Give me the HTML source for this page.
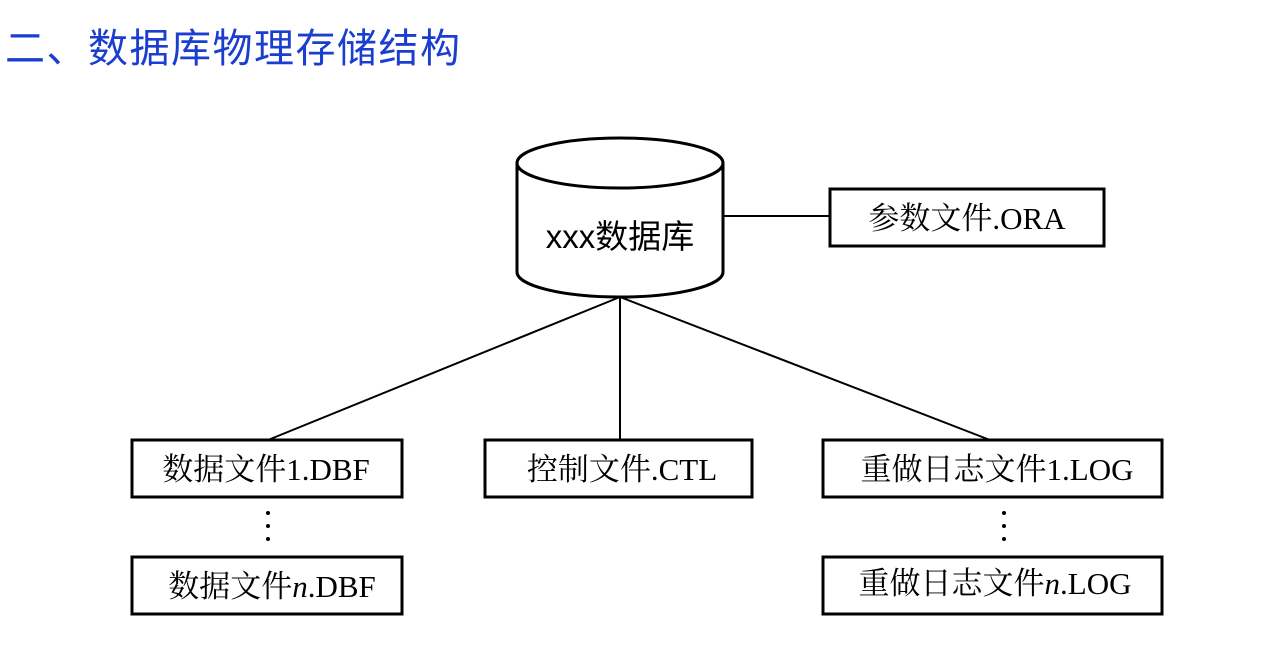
<!DOCTYPE html>
<html><head><meta charset="utf-8"><style>
body{margin:0;width:1280px;height:656px;background:#fff;overflow:hidden}
</style></head><body>
<svg width="1280" height="656" viewBox="0 0 1280 656" xmlns="http://www.w3.org/2000/svg">
<text x="5" y="62" font-family="Liberation Sans, Noto Sans CJK SC, sans-serif" font-size="40" letter-spacing="1.5" fill="#1a3ecf">二、数据库物理存储结构</text>
<g stroke="#000" stroke-width="3" fill="#fff">
<path d="M517 163 L517 272 A103 25 0 0 0 723 272 L723 163"/>
<ellipse cx="620" cy="163" rx="103" ry="25"/>
<line x1="723" y1="216" x2="830" y2="216" stroke-width="2"/>
<line x1="620" y1="297" x2="268" y2="440" stroke-width="2"/>
<line x1="620" y1="297" x2="620" y2="440" stroke-width="2"/>
<line x1="620" y1="297" x2="990" y2="440" stroke-width="2"/>
<rect x="830" y="189" width="274" height="57"/>
<rect x="132" y="440" width="270" height="57"/>
<rect x="485" y="440" width="267" height="57"/>
<rect x="823" y="440" width="339" height="57"/>
<rect x="132" y="557" width="270" height="57"/>
<rect x="823" y="557" width="339" height="57"/>
</g>
<g fill="#000">
<circle cx="268" cy="513" r="2"/><circle cx="268" cy="526" r="2"/><circle cx="268" cy="539" r="2"/>
<circle cx="1004" cy="513" r="2"/><circle cx="1004" cy="526" r="2"/><circle cx="1004" cy="539" r="2"/>
</g>
<g font-family="Liberation Serif, Noto Serif CJK SC, serif" font-size="31" fill="#000" text-anchor="middle">
<text x="620" y="248" font-size="33" font-family="Liberation Sans, Noto Sans CJK SC, sans-serif">xxx数据库</text>
<text x="967" y="229">参数文件.ORA</text>
<text x="266" y="480">数据文件1.DBF</text>
<text x="622" y="480">控制文件.CTL</text>
<text x="997" y="480">重做日志文件1.LOG</text>
<text x="272" y="597">数据文件<tspan font-style="italic">n</tspan>.DBF</text>
<text x="995" y="594">重做日志文件<tspan font-style="italic">n</tspan>.LOG</text>
</g>
</svg>
</body></html>
